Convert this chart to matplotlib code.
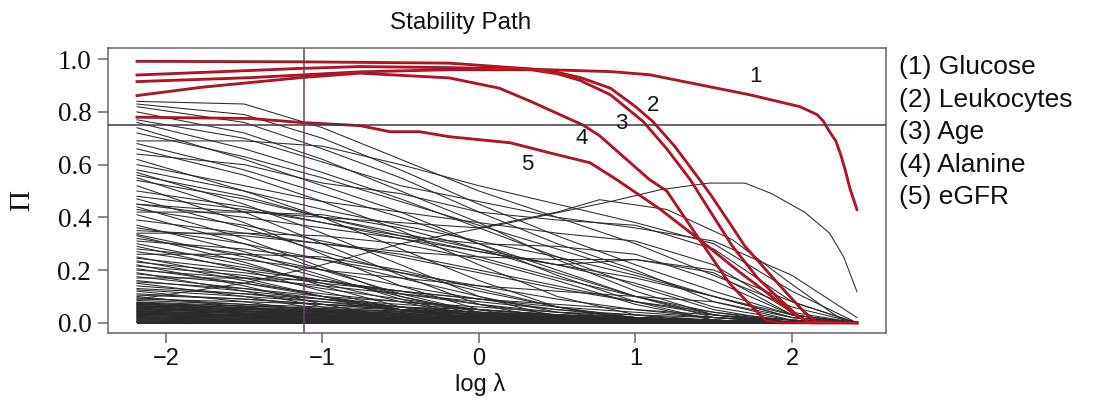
import numpy as np
import matplotlib
matplotlib.use("Agg")
import matplotlib.pyplot as plt

SANS = "Liberation Sans"
SERIF = "Liberation Serif"

# ---- data ----
X_KNOTS = [-2.185, -1.5, -1.0, -0.5, 0.0, 0.5, 1.0, 1.5, 2.0, 2.415]

# black selection paths, values at X_KNOTS
BLACK_Y = [
    [0.84, 0.83, 0.74, 0.62, 0.50, 0.40, 0.30, 0.18, 0.06, 0.0],
    [0.83, 0.79, 0.70, 0.58, 0.45, 0.33, 0.22, 0.12, 0.03, 0.0],
    [0.82, 0.76, 0.66, 0.55, 0.42, 0.30, 0.20, 0.08, 0.01, 0.0],
    [0.80, 0.72, 0.62, 0.50, 0.38, 0.24, 0.12, 0.03, 0.0, 0.0],
    [0.77, 0.70, 0.61, 0.52, 0.46, 0.40, 0.36, 0.31, 0.18, 0.02],
    [0.76, 0.66, 0.57, 0.47, 0.36, 0.25, 0.14, 0.05, 0.0, 0.0],
    [0.74, 0.62, 0.52, 0.42, 0.30, 0.18, 0.08, 0.01, 0.0, 0.0],
    [0.72, 0.63, 0.55, 0.46, 0.37, 0.28, 0.19, 0.10, 0.02, 0.0],
    [0.69, 0.69, 0.67, 0.60, 0.52, 0.45, 0.38, 0.30, 0.12, 0.0],
    [0.68, 0.58, 0.49, 0.40, 0.30, 0.20, 0.10, 0.02, 0.0, 0.0],
    [0.66, 0.56, 0.46, 0.35, 0.22, 0.10, 0.03, 0.0, 0.0, 0.0],
    [0.64, 0.60, 0.53, 0.49, 0.42, 0.39, 0.37, 0.28, 0.08, 0.0],
    [0.62, 0.50, 0.40, 0.28, 0.16, 0.06, 0.01, 0.0, 0.0, 0.0],
    [0.60, 0.52, 0.46, 0.42, 0.38, 0.34, 0.31, 0.22, 0.04, 0.0],
    [0.58, 0.50, 0.43, 0.37, 0.31, 0.25, 0.18, 0.10, 0.02, 0.0],
    [0.57, 0.45, 0.34, 0.22, 0.10, 0.02, 0.0, 0.0, 0.0, 0.0],
    [0.56, 0.48, 0.40, 0.33, 0.27, 0.22, 0.24, 0.19, 0.03, 0.0],
    [0.55, 0.42, 0.30, 0.18, 0.07, 0.01, 0.0, 0.0, 0.0, 0.0],
    [0.54, 0.47, 0.40, 0.34, 0.28, 0.22, 0.15, 0.06, 0.01, 0.0],
    [0.52, 0.38, 0.26, 0.14, 0.05, 0.0, 0.0, 0.0, 0.0, 0.0],
    [0.50, 0.44, 0.38, 0.33, 0.30, 0.29, 0.26, 0.16, 0.03, 0.0],
    [0.48, 0.43, 0.38, 0.32, 0.25, 0.17, 0.10, 0.04, 0.0, 0.0],
    [0.47, 0.36, 0.27, 0.19, 0.12, 0.06, 0.02, 0.0, 0.0, 0.0],
    [0.45, 0.40, 0.36, 0.32, 0.27, 0.22, 0.17, 0.10, 0.03, 0.0],
    [0.44, 0.32, 0.21, 0.10, 0.03, 0.0, 0.0, 0.0, 0.0, 0.0],
    [0.43, 0.37, 0.31, 0.25, 0.19, 0.13, 0.08, 0.04, 0.01, 0.0],
    [0.42, 0.42, 0.41, 0.36, 0.28, 0.19, 0.10, 0.03, 0.0, 0.0],
    [0.41, 0.30, 0.20, 0.11, 0.04, 0.0, 0.0, 0.0, 0.0, 0.0],
    [0.39, 0.34, 0.30, 0.27, 0.25, 0.24, 0.24, 0.20, 0.08, 0.0],
    [0.37, 0.27, 0.18, 0.09, 0.02, 0.0, 0.0, 0.0, 0.0, 0.0],
    [0.36, 0.30, 0.24, 0.17, 0.10, 0.04, 0.01, 0.0, 0.0, 0.0],
    [0.35, 0.33, 0.30, 0.26, 0.20, 0.14, 0.08, 0.03, 0.0, 0.0],
    [0.34, 0.34, 0.33, 0.30, 0.24, 0.16, 0.07, 0.01, 0.0, 0.0],
    [0.335, 0.25, 0.17, 0.10, 0.04, 0.01, 0.0, 0.0, 0.0, 0.0],
    [0.33, 0.23, 0.14, 0.06, 0.01, 0.0, 0.0, 0.0, 0.0, 0.0],
    [0.32, 0.26, 0.20, 0.14, 0.09, 0.05, 0.02, 0.0, 0.0, 0.0],
    [0.31, 0.28, 0.24, 0.19, 0.14, 0.09, 0.05, 0.02, 0.0, 0.0],
    [0.30, 0.22, 0.15, 0.08, 0.02, 0.0, 0.0, 0.0, 0.0, 0.0],
    [0.29, 0.20, 0.12, 0.05, 0.01, 0.0, 0.0, 0.0, 0.0, 0.0],
    [0.28, 0.24, 0.20, 0.17, 0.14, 0.12, 0.10, 0.08, 0.02, 0.0],
    [0.27, 0.21, 0.16, 0.11, 0.07, 0.04, 0.02, 0.0, 0.0, 0.0],
    [0.26, 0.26, 0.25, 0.20, 0.13, 0.06, 0.01, 0.0, 0.0, 0.0],
    [0.25, 0.17, 0.10, 0.04, 0.0, 0.0, 0.0, 0.0, 0.0, 0.0],
    [0.245, 0.20, 0.16, 0.12, 0.09, 0.06, 0.04, 0.02, 0.0, 0.0],
    [0.235, 0.16, 0.10, 0.05, 0.01, 0.0, 0.0, 0.0, 0.0, 0.0],
    [0.23, 0.19, 0.15, 0.12, 0.09, 0.07, 0.05, 0.03, 0.01, 0.0],
    [0.22, 0.14, 0.07, 0.02, 0.0, 0.0, 0.0, 0.0, 0.0, 0.0],
    [0.215, 0.18, 0.13, 0.09, 0.05, 0.03, 0.01, 0.0, 0.0, 0.0],
    [0.205, 0.15, 0.10, 0.06, 0.03, 0.01, 0.0, 0.0, 0.0, 0.0],
    [0.20, 0.17, 0.14, 0.11, 0.08, 0.05, 0.03, 0.01, 0.0, 0.0],
    [0.19, 0.12, 0.06, 0.01, 0.0, 0.0, 0.0, 0.0, 0.0, 0.0],
    [0.185, 0.15, 0.11, 0.08, 0.05, 0.03, 0.01, 0.0, 0.0, 0.0],
    [0.175, 0.13, 0.09, 0.05, 0.02, 0.0, 0.0, 0.0, 0.0, 0.0],
    [0.17, 0.17, 0.16, 0.12, 0.07, 0.03, 0.01, 0.0, 0.0, 0.0],
    [0.16, 0.12, 0.09, 0.06, 0.04, 0.02, 0.01, 0.0, 0.0, 0.0],
    [0.155, 0.13, 0.10, 0.08, 0.06, 0.04, 0.03, 0.02, 0.01, 0.0],
    [0.15, 0.10, 0.05, 0.01, 0.0, 0.0, 0.0, 0.0, 0.0, 0.0],
    [0.14, 0.11, 0.08, 0.05, 0.03, 0.01, 0.0, 0.0, 0.0, 0.0],
    [0.13, 0.11, 0.09, 0.07, 0.05, 0.03, 0.02, 0.01, 0.0, 0.0],
    [0.125, 0.10, 0.08, 0.06, 0.04, 0.03, 0.02, 0.01, 0.0, 0.0],
    [0.12, 0.08, 0.04, 0.01, 0.0, 0.0, 0.0, 0.0, 0.0, 0.0],
    [0.11, 0.09, 0.07, 0.05, 0.04, 0.03, 0.02, 0.01, 0.0, 0.0],
    [0.105, 0.09, 0.07, 0.05, 0.03, 0.02, 0.01, 0.0, 0.0, 0.0],
    [0.10, 0.06, 0.03, 0.01, 0.0, 0.0, 0.0, 0.0, 0.0, 0.0],
    [0.095, 0.07, 0.05, 0.03, 0.02, 0.01, 0.0, 0.0, 0.0, 0.0],
    [0.09, 0.08, 0.07, 0.06, 0.05, 0.03, 0.02, 0.01, 0.0, 0.0],
    [0.085, 0.07, 0.06, 0.05, 0.04, 0.03, 0.02, 0.01, 0.005, 0.0],
]

# paths that rise in the middle of the lambda range
HUMP_X = [-2.185, -1.5, -1.0, -0.5, 0.2, 0.84, 1.16, 1.47, 1.70, 1.87, 2.08,
          2.24, 2.33, 2.415]
HUMP_Y = [0.09, 0.15, 0.22, 0.30, 0.38, 0.46, 0.505, 0.53, 0.53, 0.49, 0.42,
          0.34, 0.25, 0.118]
RISER_X = [-2.185, -1.0, 0.0, 0.5, 0.77, 1.2, 1.62, 1.96, 2.25, 2.35, 2.415]
RISER_Y = [0.45, 0.40, 0.36, 0.42, 0.467, 0.43, 0.315, 0.163, 0.04, 0.0, 0.0]

# dense band of weak variables near zero: start value and where it reaches 0
BAND_START = [0.079, 0.077, 0.075, 0.074, 0.072, 0.070, 0.069, 0.067, 0.065,
              0.063, 0.061, 0.060, 0.058, 0.056, 0.054, 0.052, 0.050, 0.049,
              0.047, 0.045, 0.043, 0.041, 0.039, 0.037, 0.035, 0.034, 0.032,
              0.030, 0.028, 0.026, 0.024, 0.022, 0.020, 0.018, 0.016, 0.014,
              0.012, 0.010, 0.008, 0.006, 0.004, 0.003, 0.002, 0.001, 0.0]
BAND_END = [1.6, 0.3, 2.0, -0.4, 1.1, 1.9, 0.6, -0.8, 1.4, 2.05, 0.2, 1.7,
            0.9, -0.2, 2.1, 1.3, 0.5, 1.85, -0.6, 1.0, 2.0, 0.4, 1.5, 0.8,
            1.95, -0.1, 1.2, 2.1, 0.7, 1.75, 0.1, 1.6, 2.0, 1.1, 0.3, 1.9,
            1.4, 0.9, 2.0, 1.7, 1.3, 2.1, 1.8, 2.2, 2.415]

# stable variables (red)
RED_X = [
    [-2.185, -1.76, -1.14, -0.76, -0.19, 0.33, 0.84, 1.09, 1.41, 1.73, 2.05,
     2.16, 2.20, 2.24, 2.28, 2.31, 2.34, 2.37, 2.415],
    [-2.185, -1.14, -0.19, 0.33, 0.5, 0.65, 0.84, 1.0, 1.11, 1.25, 1.41, 1.48,
     1.6, 1.70, 1.85, 1.97, 2.08, 2.15, 2.415],
    [-2.185, -1.46, -0.76, -0.19, 0.33, 0.5, 0.645, 0.84, 1.05, 1.2, 1.35,
     1.41, 1.62, 1.78, 1.92, 2.03, 2.10, 2.415],
    [-2.185, -1.78, -1.14, -0.76, -0.19, 0.13, 0.33, 0.665, 0.77, 1.09, 1.2,
     1.41, 1.6, 1.73, 1.83, 1.92, 2.415],
    [-2.185, -1.46, -1.14, -0.76, -0.57, -0.38, -0.19, 0.2, 0.45, 0.71, 0.88,
     1.16, 1.41, 1.67, 1.86, 2.02, 2.12, 2.415],
]
RED_Y = [
    [0.94, 0.95, 0.965, 0.972, 0.968, 0.962, 0.953, 0.941, 0.903, 0.865, 0.82,
     0.79, 0.765, 0.725, 0.69, 0.64, 0.58, 0.51, 0.43],
    [0.992, 0.99, 0.985, 0.963, 0.95, 0.93, 0.89, 0.82, 0.764, 0.67, 0.543,
     0.486, 0.38, 0.29, 0.19, 0.11, 0.04, 0.005, 0.0],
    [0.915, 0.93, 0.952, 0.96, 0.96, 0.945, 0.92, 0.865, 0.763, 0.66, 0.543,
     0.486, 0.29, 0.17, 0.09, 0.03, 0.003, 0.0],
    [0.862, 0.893, 0.93, 0.947, 0.929, 0.89, 0.84, 0.75, 0.71, 0.543, 0.50,
     0.315, 0.15, 0.07, 0.01, 0.0, 0.0],
    [0.78, 0.775, 0.76, 0.748, 0.725, 0.725, 0.706, 0.683, 0.645, 0.607,
     0.543, 0.43, 0.315, 0.19, 0.105, 0.03, 0.0, 0.0],
]
RED_TAGS = ["1", "2", "3", "4", "5"]
RED_NAMES = ["Glucose", "Leukocytes", "Age", "Alanine", "eGFR"]
TAG_POS = [(1.764, 0.934), (1.112, 0.824), (0.907, 0.755), (0.658, 0.698),
           (0.307, 0.60)]

PI_THR = 0.75
LAMBDA_MIN = -1.115

# ---- figure ----
fig = plt.figure(figsize=(10.99, 4.01), dpi=100)
ax = fig.add_axes([0.0983, 0.170, 0.7078, 0.710])

blk = dict(color="#2a2a2a", lw=0.75, solid_joinstyle="round")
for y0, xe in zip(BAND_START, BAND_END):
    ax.plot([X_KNOTS[0], xe, X_KNOTS[-1]], [y0, 0.0, 0.0], **blk)
for ys in BLACK_Y:
    ax.plot(X_KNOTS, ys, **blk)
ax.plot(HUMP_X, HUMP_Y, **blk)
ax.plot(RISER_X, RISER_Y, **blk)

# red paths: dark rim with bright core, as in the scanned original
for xs, ys in zip(RED_X, RED_Y):
    ax.plot(xs, ys, color="#8a0e20", lw=2.0, zorder=3)
    ax.plot(xs, ys, color="#d3121f", lw=0.9, zorder=4)

ax.axhline(PI_THR, color="#4d3344", lw=1.1, zorder=5)
ax.axvline(LAMBDA_MIN, color="#6b4060", lw=1.1, zorder=5)

for tag, (tx, ty) in zip(RED_TAGS, TAG_POS):
    ax.text(tx, ty, tag, fontsize=16, family=SANS, ha="center", va="center",
            color="#111111", zorder=6)

ax.set_xlim(-2.37, 2.60)
ax.set_ylim(-0.038, 1.042)
ax.set_xticks([-2, -1, 0, 1, 2])
ax.set_xticklabels(["\u22122", "\u22121", "0", "1", "2"], family=SANS,
                   fontsize=17)
yt = [0.0, 0.2, 0.4, 0.6, 0.8, 1.0]
ax.set_yticks(yt)
ax.set_yticklabels([f"{v:.1f}" for v in yt], family=SERIF, fontsize=19.5)
ax.tick_params(axis="both", direction="out", length=7, width=1.1,
               color="#666666", labelcolor="#111111")
ax.tick_params(axis="y", pad=5)
ax.tick_params(axis="x", pad=4)
for sp in ax.spines.values():
    sp.set_color("#666666")
    sp.set_linewidth(1.1)

fig.text(461 / 1099, 1 - 23 / 401, "Stability Path", family=SANS, fontsize=17.5,
         ha="center", va="center", color="#111111")
fig.text(480 / 1099, 1 - 385 / 401, "log \u03bb", family=SANS, fontsize=17,
         ha="center", va="center", color="#111111")
fig.text(22 / 1099, 0.5, "\u03a0", family=SERIF, fontsize=21, rotation=90,
         ha="center", va="center", color="#111111")

for i, (tag, name) in enumerate(zip(RED_TAGS, RED_NAMES)):
    fig.text(899 / 1099, 1 - (67 + 32.5 * i) / 401, f"({tag}) {name}",
             family=SANS, fontsize=19, ha="left", va="center", color="#111111")

fig.savefig("out.png", dpi=100)
